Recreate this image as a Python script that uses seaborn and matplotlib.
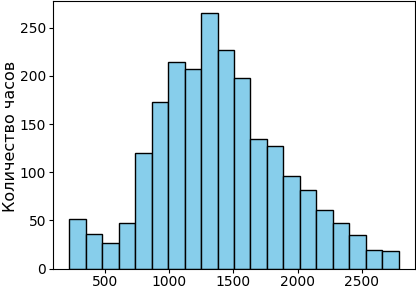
import numpy as np
import pandas as pd
import matplotlib
matplotlib.use("Agg")
import matplotlib.pyplot as plt
import seaborn as sns

# Histogram counts (20 bins)
counts = [51, 36, 26, 47, 120, 173, 214, 207, 265, 227,
          198, 134, 127, 96, 81, 61, 47, 35, 19, 18]
bin_start = 225
bin_width = 128
y_label = "Количество часов"

n = len(counts)
centers = bin_start + bin_width * (np.arange(n) + 0.5)
df = pd.DataFrame({"hours": centers, "count": counts})

fig = plt.figure(figsize=(4.16, 2.89), dpi=100)
ax = fig.add_axes([53 / 416, 20.5 / 289, 362 / 416, 268 / 289])
sns.histplot(data=df, x="hours", weights="count", binwidth=bin_width,
             binrange=(bin_start, bin_start + bin_width * n),
             color="skyblue", edgecolor="black", linewidth=1.0,
             alpha=1.0, ax=ax)
ax.set_xlabel("")
ax.set_ylabel(y_label, fontsize=11.5)
ax.yaxis.set_label_coords(-0.097, 0.493)
ax.tick_params(labelsize=10, length=3, pad=2)
ax.set_yticks([0, 50, 100, 150, 200, 250])
ax.set_xticks([500, 1000, 1500, 2000, 2500])
fig.savefig("out.png", dpi=100)
